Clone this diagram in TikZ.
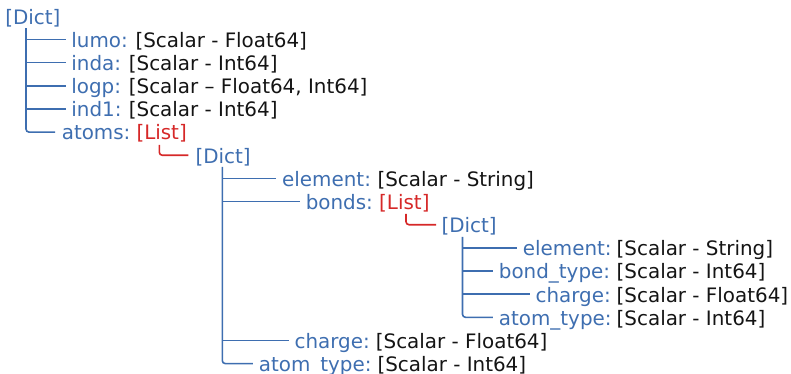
\documentclass[tikz,border=0pt]{standalone}
\usepackage{fontspec}
\setmainfont{DejaVu Sans}
\definecolor{tb}{RGB}{62,110,176}
\definecolor{tr}{RGB}{214,40,40}
\definecolor{tk}{RGB}{20,20,20}
\begin{document}
\begin{tikzpicture}[x=1pt,y=-1pt,
  txt/.style={inner sep=0pt, outer sep=0pt, anchor=west, font=\fontsize{19.9}{23}\selectfont, text height=18.4pt, text depth=2.6pt},
  key/.style={txt, text=tb},
  val/.style={txt, text=tk},
  lst/.style={txt, text=tr},
  bl/.style={draw=tb, line width=1.6pt},
  rl/.style={draw=tr, line width=1.6pt, rounded corners=3pt},
  ]
\useasboundingbox (0,0) rectangle (791,374);
% nodes
\node[key] (d0) at (5.3,16.35) {[Dict]};
\node[key] (k1) at (71.4,39.5) {lumo:};
\node[val] (v1) at (135.5,39.5) {[Scalar - Float64]};
\node[key] (k2) at (71.4,62.65) {inda:};
\node[val] (v2) at (128.9,62.65) {[Scalar - Int64]};
\node[key] (k3) at (71.4,85.8) {logp:};
\node[val] (v3) at (128.9,85.8) {[Scalar – Float64, Int64]};
\node[key] (k4) at (71.4,108.95) {ind1:};
\node[val] (v4) at (128.9,108.95) {[Scalar - Int64]};
\node[key] (k5) at (61.8,132.1) {atoms:};
\node[lst] (l5) at (136.5,132.1) {[List]};
\node[key] (d6) at (195.5,155.25) {[Dict]};
\node[key] (k7) at (282.2,178.4) {element:};
\node[val] (v7) at (377.5,178.4) {[Scalar - String]};
\node[key] (k8) at (305.8,201.55) {bonds:};
\node[lst] (l8) at (379.2,201.55) {[List]};
\node[key] (d9) at (441.5,224.7) {[Dict]};
\node[key] (k10) at (522.9,247.85) {element:};
\node[val] (v10) at (616.7,247.85) {[Scalar - String]};
\node[key] (k11) at (498.9,271) {bond\_type:};
\node[val] (v11) at (616.7,271) {[Scalar - Int64]};
\node[key] (k12) at (535.6,294.15) {charge:};
\node[val] (v12) at (616.7,294.15) {[Scalar - Float64]};
\node[key] (k13) at (498.9,317.3) {atom\_type:};
\node[val] (v13) at (616.7,317.3) {[Scalar - Int64]};
\node[key] (k14) at (294.6,340.45) {charge:};
\node[val] (v14) at (375.9,340.45) {[Scalar - Float64]};
\node[key] (k15) at (258.9,363.6) {atom\_type:};
\node[val] (v15) at (377.5,363.6) {[Scalar - Int64]};
% group 1
\coordinate (a0) at ([xshift=20.7pt,yshift=-1.2pt]d0.south west);
\draw[bl, rounded corners=3pt] (a0) |- ([xshift=-6.8pt]k5.west);
\foreach \k in {k1,k2,k3,k4} \draw[bl] (a0 |- \k.west) -- ([xshift=-5.5pt]\k.west);
% list 1
\draw[rl] ([xshift=22.8pt,yshift=-2.2pt]l5.south west) |- ([xshift=-7.2pt]d6.west);
% group 2
\coordinate (a6) at ([xshift=26.8pt,yshift=-1.2pt]d6.south west);
\draw[bl, rounded corners=3pt] (a6) |- ([xshift=-6pt]k15.west);
\foreach \k in {k7,k8,k14} \draw[bl] (a6 |- \k.west) -- ([xshift=-6pt]\k.west);
% list 2
\draw[rl] ([xshift=26.8pt,yshift=-1.8pt]l8.south west) |- ([xshift=-5.5pt]d9.west);
% group 3
\coordinate (a9) at ([xshift=21pt,yshift=-1.7pt]d9.south west);
\draw[bl, rounded corners=3pt] (a9) |- ([xshift=-6pt]k13.west);
\foreach \k in {k10,k11,k12} \draw[bl] (a9 |- \k.west) -- ([xshift=-6pt]\k.west);
\end{tikzpicture}
\end{document}
